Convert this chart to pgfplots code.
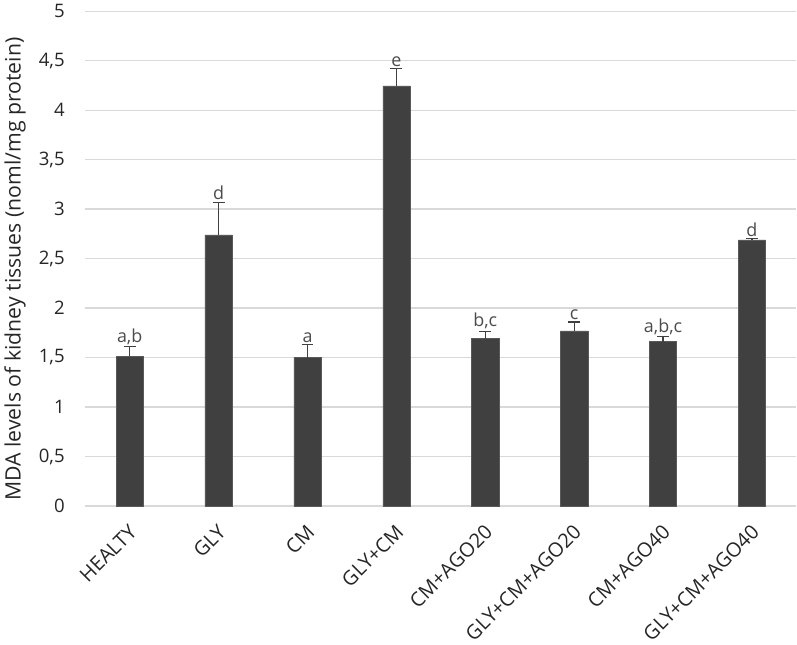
\documentclass[border=0pt]{standalone}
\usepackage{pgfplots}
\pgfplotsset{compat=1.18}
\usepackage{pgfplotstable}
\usepackage{fontspec}
\setmainfont{Open Sans}
\definecolor{barc}{HTML}{404040}
\definecolor{gridc}{HTML}{D9D9D9}
\definecolor{txt}{HTML}{262626}
\pgfplotstableread{
x y err
0 1.515 0.095
1 2.74 0.33
2 1.50 0.13
3 4.245 0.175
4 1.69 0.075
5 1.77 0.09
6 1.66 0.05
7 2.69 0.01
}\datatab
\pgfplotstableread{
x y lab
0 1.61 {a,b}
1 3.07 d
2 1.63 a
3 4.42 e
4 1.765 {b,c}
5 1.86 c
6 1.71 {a,b,c}
7 2.70 d
}\labtab
\begin{document}
\begin{tikzpicture}
\begin{axis}[
  scale only axis,
  width=536pt, height=373pt,
  xmin=-0.5, xmax=7.5,
  ymin=0, ymax=5,
  ytick={0,0.5,...,5},
  xtick={0,...,7},
  xticklabels={HEALTY,GLY,CM,GLY+CM,CM+AGO20,GLY+CM+AGO20,CM+AGO40,GLY+CM+AGO40},
  x tick label style={rotate=45, anchor=north east, font=\fontsize{15}{17}\selectfont, color=txt, inner sep=1pt, xshift=-9pt, yshift=-7pt},
  y tick label style={font=\fontsize{14}{16}\selectfont, color=txt, xshift=-12pt},
  /pgf/number format/use comma,
  /pgf/number format/assume math mode=true,
  axis line style={draw=none},
  major tick length=0pt,
  ymajorgrids,
  grid style={gridc, line width=0.9pt},
  ylabel={MDA levels of kidney tissues (noml/mg protein)},
  ylabel style={font=\fontsize{16}{18}\selectfont, color=txt, yshift=3pt, xshift=-8pt},
  clip=false,
]
\addplot[ybar, bar width=20.5pt, fill=barc, draw=gray!70!black,
  error bars/.cd, y dir=plus, y explicit, error bar style={barc, line width=0.9pt}, error mark options={rotate=90, mark size=4.5pt, line width=0.9pt, barc}]
  table[x=x, y=y, y error=err]{\datatab};
\addplot[draw=none, mark=none, nodes near coords, point meta=explicit symbolic,
  nodes near coords style={font=\fontsize{13.5}{15}\selectfont, color=black!70, anchor=south, inner sep=1.5pt}]
  table[x=x, y=y, meta=lab]{\labtab};
\end{axis}
\end{tikzpicture}
\end{document}
